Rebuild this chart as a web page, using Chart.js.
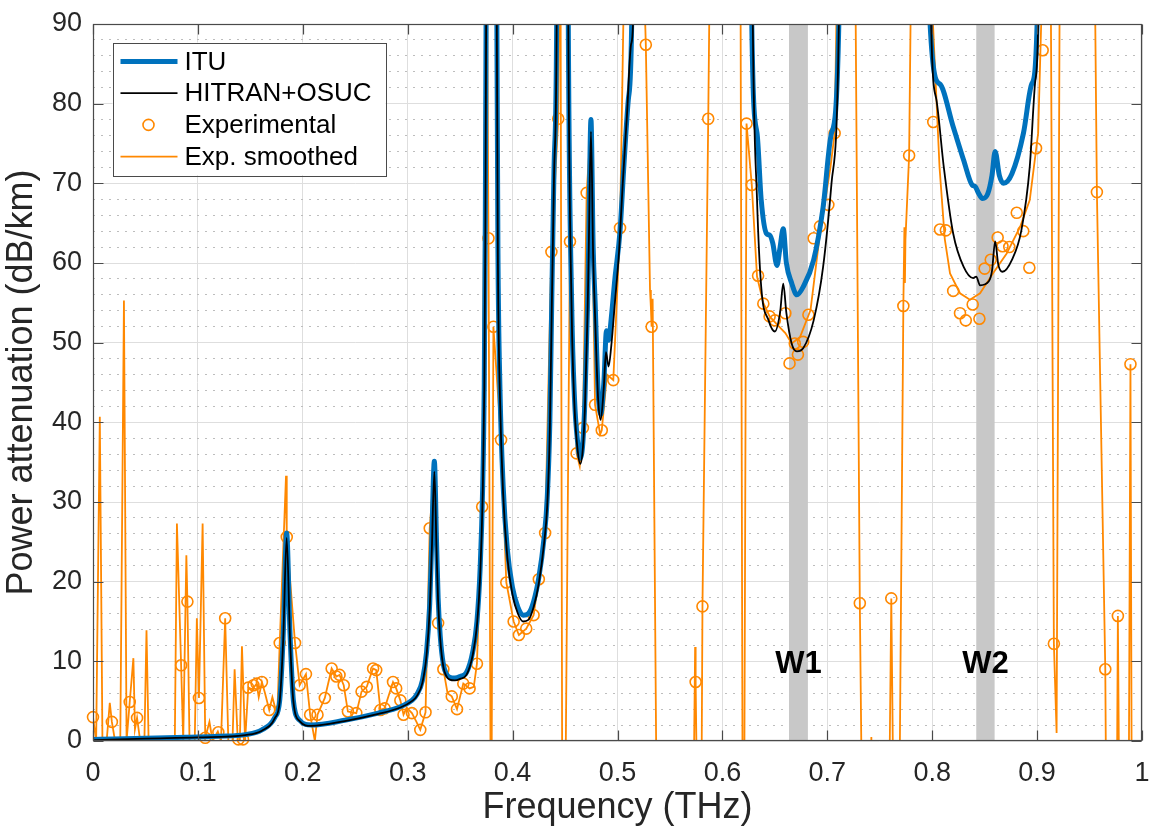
<!DOCTYPE html>
<html>
<head>
<meta charset="utf-8">
<title>Power attenuation vs frequency</title>
<script src="https://cdn.jsdelivr.net/npm/chart.js@4.4.1/dist/chart.umd.min.js"></script>
<style>
  body { margin: 0; background: #fff; }
  canvas { display: block; }
</style>
</head>
<body>
<canvas id="attChart" width="1157" height="830"></canvas>
<script>
// axis ticks (THz / dB/km)
var xTickVals = [0, 0.1, 0.2, 0.3, 0.4, 0.5, 0.6, 0.7, 0.8, 0.9, 1];
var yTickVals = [0, 10, 20, 30, 40, 50, 60, 70, 80, 90];
var yMinorStep = 2;

// transmission windows (gray bands)
var winNames = ['W1', 'W2'];
var winLow = [0.6635, 0.842];
var winHigh = [0.6815, 0.8595];
var winLabelLevel = 9.6;

// ITU model, values above 90 are off the top of the plot
var ituFreq = [0, 0.02, 0.05, 0.08, 0.1, 0.12, 0.145, 0.161, 0.1735, 0.178, 0.1814, 0.1846, 0.1878, 0.191, 0.197, 0.208,
  0.24, 0.272, 0.293, 0.304, 0.309, 0.314, 0.318, 0.321, 0.323, 0.3254, 0.3275, 0.329, 0.331, 0.334, 0.337, 0.34,
  0.345, 0.35, 0.356, 0.362, 0.366, 0.369, 0.3715, 0.373, 0.374, 0.375, 0.376, 0.384, 0.385, 0.386, 0.388, 0.391,
  0.395, 0.4, 0.405, 0.41, 0.415, 0.42, 0.425, 0.43, 0.433, 0.4355, 0.4373, 0.4395, 0.442, 0.443, 0.452, 0.4531,
  0.4563, 0.459, 0.462, 0.4645, 0.467, 0.469, 0.4715, 0.4725, 0.4747, 0.4768, 0.4787, 0.4815, 0.484, 0.487, 0.4895,
  0.4915, 0.494, 0.4975, 0.5024, 0.506, 0.5103, 0.5135, 0.515, 0.627, 0.628, 0.633, 0.637, 0.642, 0.645, 0.648,
  0.652, 0.655, 0.658, 0.661, 0.666, 0.671, 0.677, 0.687, 0.696, 0.704, 0.711, 0.712, 0.797, 0.798, 0.807, 0.82,
  0.83, 0.838, 0.841, 0.844, 0.848, 0.853, 0.857, 0.86, 0.864, 0.868, 0.876, 0.887, 0.895, 0.9, 0.901, 1];
var ituAtt = [0.2, 0.25, 0.35, 0.45, 0.5, 0.6, 0.8, 1.4, 3.0, 5.1, 13.5, 26.1, 13.5, 5.1, 2.6, 2.0,
  2.6, 3.5, 4.3, 5.1, 5.9, 7.6, 11.2, 17.2, 25.5, 35.1, 25, 18, 13.2, 9.6, 8.4, 8.0,
  7.9, 8.1, 8.6, 11.2, 15, 21.5, 32, 45, 66, 100, 130, 130, 90, 62, 44, 32,
  24, 19.2, 16.8, 15.8, 16.0, 17.5, 20.5, 25.5, 30.5, 40, 55, 72, 90, 130, 130, 90,
  55, 43, 37.5, 35.5, 37.5, 43, 55, 62, 78, 62, 55, 44, 41, 45, 51.5,
  50.3, 53, 58, 64, 72, 80.5, 90, 130, 130, 90, 76.3, 67.9, 63.7, 63.5, 62.5,
  59.7, 62, 64.3, 60, 57.5, 56, 57, 60.4, 67, 76.3, 90, 130, 130, 90, 82.5, 77.1,
  72.9, 69.8, 69.6, 68.8, 68.1, 68.7, 71, 74, 71, 70, 71.2, 76.3, 82.5, 90, 130, 130];

// HITRAN + OSUC model
var hitFreq = [0, 0.05, 0.1, 0.145, 0.161, 0.1735, 0.178, 0.1814, 0.1846, 0.1878, 0.191, 0.197, 0.208, 0.24, 0.272,
  0.293, 0.304, 0.309, 0.314, 0.318, 0.321, 0.323, 0.3254, 0.3275, 0.329, 0.331, 0.334, 0.337, 0.34, 0.345, 0.35,
  0.356, 0.362, 0.366, 0.369, 0.3715, 0.373, 0.374, 0.375, 0.376, 0.384, 0.385, 0.386, 0.388, 0.391, 0.395, 0.4,
  0.405, 0.41, 0.415, 0.42, 0.425, 0.43, 0.433, 0.4355, 0.4373, 0.4395, 0.442, 0.443, 0.452, 0.4531, 0.4563, 0.459,
  0.462, 0.4645, 0.467, 0.469, 0.4715, 0.4725, 0.4747, 0.4768, 0.4787, 0.4815, 0.484, 0.487, 0.489, 0.4915, 0.494,
  0.4975, 0.5015, 0.505, 0.509, 0.513, 0.515, 0.516, 0.627, 0.629, 0.633, 0.637, 0.644, 0.65, 0.655, 0.658, 0.661,
  0.666, 0.671, 0.677, 0.687, 0.696, 0.704, 0.711, 0.713, 0.797, 0.799, 0.804, 0.811, 0.82, 0.83, 0.839, 0.842,
  0.8456, 0.854, 0.857, 0.86, 0.863, 0.867, 0.876, 0.885, 0.893, 0.898, 0.901, 0.903, 1];
var hitAtt = [0.1, 0.3, 0.45, 0.75, 1.3, 2.9, 5.0, 13, 25.5, 13, 5.0, 2.5, 1.9, 2.5, 3.4,
  4.2, 5.0, 5.7, 7.3, 10.8, 16.5, 24, 33.8, 24, 17.5, 12.8, 9.3, 8.1, 7.7, 7.6, 7.8,
  8.3, 10.8, 14.5, 20.5, 31, 44, 63, 98, 130, 130, 88, 60, 43, 31, 23, 18.3,
  16, 15.0, 15.2, 16.8, 19.8, 24.8, 29.5, 39, 54, 71, 90, 130, 130, 90, 54, 42,
  36.5, 34.8, 36.8, 42, 54, 61, 76.5, 61, 53, 43, 40.3, 44.5, 48.8, 47, 49.5,
  55, 61.5, 70, 78.5, 87.5, 91, 130, 130, 90, 68, 57, 52.8, 51.4, 53.8, 57.4, 53.7,
  49.9, 48.9, 49.3, 52.8, 59.5, 70, 90, 130, 130, 90, 80.5, 72.1, 63.7, 59.5, 58.1, 58.3,
  57.2, 57.7, 59, 62.7, 59.8, 58.9, 60.4, 64.1, 72.1, 82.5, 90, 130, 130];

// measured points (circles)
var expFreq = [0, 0.018, 0.035, 0.042, 0.084, 0.09, 0.101, 0.107, 0.1195, 0.126, 0.1386, 0.143, 0.148, 0.153, 0.156,
  0.161, 0.168, 0.178, 0.1847, 0.1926, 0.197, 0.203, 0.207, 0.214, 0.221, 0.2275, 0.232, 0.235, 0.239, 0.243, 0.251,
  0.256, 0.261, 0.267, 0.27, 0.274, 0.278, 0.286, 0.289, 0.293, 0.296, 0.304, 0.312, 0.317, 0.321, 0.329, 0.334,
  0.342, 0.347, 0.353, 0.359, 0.366, 0.371, 0.377, 0.3817, 0.389, 0.394, 0.401, 0.406, 0.413, 0.42, 0.425, 0.431,
  0.437, 0.4435, 0.4547, 0.461, 0.467, 0.4706, 0.4786, 0.485, 0.496, 0.5024, 0.527, 0.5325, 0.5745, 0.581, 0.5865,
  0.623, 0.628, 0.634, 0.639, 0.645, 0.65, 0.66, 0.664, 0.669, 0.672, 0.677, 0.682, 0.687, 0.693, 0.701, 0.707,
  0.731, 0.761, 0.7725, 0.778, 0.801, 0.8074, 0.813, 0.82, 0.8265, 0.832, 0.8386, 0.845, 0.85, 0.8558, 0.8624,
  0.867, 0.8735, 0.8806, 0.8868, 0.8926, 0.899, 0.9053, 0.916, 0.957, 0.965, 0.977, 0.989];
var expAtt = [3.0, 2.4, 4.9, 2.9, 9.5, 17.5, 5.4, 0.4, 1.1, 15.4, 0.2, 0.2, 6.7, 7.0, 7.2,
  7.4, 3.9, 12.3, 25.6, 12.3, 7.0, 8.4, 3.3, 3.3, 5.4, 9.1, 8.1, 8.3, 7.0, 3.7, 3.5,
  6.2, 6.8, 9.1, 8.9, 3.9, 4.1, 7.4, 6.6, 5.1, 3.3, 3.5, 1.4, 3.6, 26.7, 14.8, 9.0,
  5.6, 4.0, 7.2, 6.6, 9.7, 29.4, 63.1, 52.0, 37.8, 19.9, 15.0, 13.3, 14.1, 15.8, 20.3, 26.1,
  61.4, 78.1, 62.7, 36.1, 39.3, 68.8, 42.2, 39.0, 45.3, 64.4, 87.4, 52.0, 7.4, 16.9, 78.1,
  77.5, 69.8, 58.4, 54.9, 53.3, 52.8, 53.7, 47.4, 49.9, 48.5, 50.1, 53.5, 63.1, 64.6, 67.3, 76.3,
  17.3, 17.9, 54.6, 73.5, 77.7, 64.2, 64.1, 56.5, 53.7, 52.8, 54.8, 53.0, 59.3, 60.4, 63.2,
  62.1, 62.0, 66.3, 64.0, 59.4, 74.4, 86.7, 12.2, 68.9, 9.0, 15.7, 47.3];

// smoothed measurement, goes far off the plot on both sides
var smFreq = [0, 0.003, 0.0065, 0.009, 0.013, 0.016, 0.018, 0.021, 0.026, 0.0295, 0.032, 0.035, 0.0385, 0.04, 0.042,
  0.045, 0.049, 0.051, 0.053, 0.078, 0.08, 0.084, 0.086, 0.089, 0.09, 0.092, 0.097, 0.099, 0.101, 0.1045, 0.107,
  0.111, 0.114, 0.119, 0.122, 0.126, 0.129, 0.133, 0.135, 0.138, 0.14, 0.142, 0.145, 0.148, 0.152, 0.156, 0.158,
  0.161, 0.164, 0.168, 0.171, 0.174, 0.176, 0.178, 0.184, 0.1847, 0.1926, 0.197, 0.203, 0.207, 0.2115, 0.214, 0.221,
  0.2275, 0.232, 0.235, 0.239, 0.243, 0.251, 0.256, 0.261, 0.264, 0.267, 0.27, 0.274, 0.278, 0.286, 0.289, 0.293,
  0.296, 0.299, 0.304, 0.308, 0.312, 0.317, 0.321, 0.3245, 0.329, 0.334, 0.338, 0.342, 0.347, 0.353, 0.359, 0.363,
  0.366, 0.371, 0.375, 0.377, 0.3795, 0.3817, 0.389, 0.394, 0.401, 0.406, 0.413, 0.42, 0.425, 0.431, 0.437, 0.4435,
  0.4455, 0.4475, 0.4495, 0.4547, 0.461, 0.464, 0.467, 0.4706, 0.4745, 0.4786, 0.4835, 0.485, 0.49, 0.496, 0.5024,
  0.508, 0.522, 0.527, 0.531, 0.5318, 0.5325, 0.5335, 0.538, 0.5715, 0.574, 0.5745, 0.577, 0.5795, 0.581, 0.5865,
  0.589, 0.617, 0.6195, 0.6205, 0.623, 0.628, 0.633, 0.639, 0.645, 0.652, 0.66, 0.666, 0.674, 0.684, 0.693, 0.703,
  0.707, 0.711, 0.726, 0.731, 0.734, 0.7405, 0.742, 0.7435, 0.758, 0.761, 0.764, 0.768, 0.7725, 0.7735, 0.774,
  0.7745, 0.778, 0.781, 0.797, 0.799, 0.807, 0.812, 0.817, 0.8265, 0.836, 0.8456, 0.858, 0.871, 0.884, 0.893, 0.901,
  0.906, 0.9125, 0.916, 0.9186, 0.922, 0.954, 0.957, 0.965, 0.9665, 0.9755, 0.977, 0.979, 0.987, 0.989, 0.9905, 1];
var smAtt = [3.0, 0, 40.7, 0, 0, 4.8, 2.4, 0, 0, 55.3, 0, 4.9, 10.4, 1.5, 2.9,
  0, 0, 13.9, 0, 0, 27.3, 9.5, 0, 23.3, 17.5, 0, 0, 15.4, 5.4, 27.3, 0.4,
  2.4, 0, 1.2, 0, 15.4, 0, 0, 9.0, 0, 0, 11.9, 0, 6.7, 6.5, 7.2, 5.5,
  7.4, 6.0, 3.9, 5.5, 4.0, 4.5, 12.3, 33.3, 25.6, 12.3, 7.0, 8.4, 3.3, 0, 3.3, 5.4,
  9.1, 8.1, 8.3, 7.0, 3.7, 3.5, 6.2, 6.8, 8.0, 9.1, 8.9, 3.9, 4.1, 7.4, 6.6, 5.1,
  3.3, 4.2, 3.5, 2.5, 1.4, 3.6, 26.7, 33, 14.8, 9.0, 6.0, 5.6, 4.0, 7.2, 6.6, 6.8,
  9.7, 29.4, 110, 63.1, -20, 52.0, 37.8, 19.9, 15.0, 13.3, 14.1, 15.8, 20.3, 26.1, 61.4, 78.1,
  110, -20, -20, 62.7, 36.1, 34.5, 39.3, 68.8, 77, 42.2, 38.5, 39.0, 46, 45.3, 64.4,
  110, 110, 87.4, 56.6, 54.5, 52.0, 55.5, -20, -20, 11.8, 7.4, -20, -20, 16.9, 78.1,
  110, 110, -20, -20, 77.5, 69.8, 58.3, 55.0, 53.3, 52.3, 51.2, 49.9, 50.7, 54.1, 63.7, 72.0,
  76.3, 110, 110, 17.3, -20, -20, 0.5, -20, -20, 17.9, -20, -20, 54.6, 64.5, 57.5,
  63, 73.5, 110, 110, 95, 72, 63, 58.7, 56.2, 55.4, 56.2, 58.7, 61.2, 64.6, 67.9, 76.3,
  100, 110, 12.2, 1.0, 110, 110, 68.9, 9.0, -20, -20, 15.7, -20, -20, 47.3, -20, -20];

var FONT = "'Liberation Sans', Arial, Helvetica, sans-serif";
var TEXT = '#262626';
var BLUE = '#0072bd';
var ORANGE = '#ff8800';

function toPoints(xs, ys) {
  return xs.map(function(x, i) { return {x: x, y: ys[i]}; });
}

// gray windows underneath, box / inward ticks / legend on top
var decor = {
  id: 'decor',
  beforeDatasetsDraw: function(chart) {
    var ctx = chart.ctx, area = chart.chartArea, xs = chart.scales.x;
    ctx.save();
    ctx.fillStyle = '#c8c8c8';
    for (var i = 0; i < winNames.length; i++) {
      var x0 = xs.getPixelForValue(winLow[i]);
      var x1 = xs.getPixelForValue(winHigh[i]);
      ctx.fillRect(x0, area.top, x1 - x0, area.bottom - area.top);
    }
    ctx.restore();
  },
  afterDraw: function(chart) {
    var ctx = chart.ctx, area = chart.chartArea, xs = chart.scales.x, ys = chart.scales.y;
    var i;
    ctx.save();

    ctx.font = 'bold 31px ' + FONT;
    ctx.fillStyle = '#000';
    ctx.textAlign = 'center';
    ctx.textBaseline = 'middle';
    for (i = 0; i < winNames.length; i++) {
      ctx.fillText(winNames[i], xs.getPixelForValue((winLow[i] + winHigh[i]) / 2), ys.getPixelForValue(winLabelLevel));
    }

    // axes box with MATLAB style ticks pointing inwards
    var L = Math.round(area.left) + 0.5, R = Math.round(area.right) - 0.5;
    var T = Math.round(area.top) + 0.5, B = Math.round(area.bottom) - 0.5;
    ctx.strokeStyle = '#4a4a4a';
    ctx.lineWidth = 1.2;
    ctx.strokeRect(L, T, R - L, B - T);
    ctx.beginPath();
    for (i = 0; i < xTickVals.length; i++) {
      var px = Math.round(xs.getPixelForValue(xTickVals[i])) + 0.5;
      ctx.moveTo(px, B); ctx.lineTo(px, B - 10);
      ctx.moveTo(px, T); ctx.lineTo(px, T + 10);
    }
    for (i = 0; i < yTickVals.length; i++) {
      var py = Math.round(ys.getPixelForValue(yTickVals[i])) + 0.5;
      ctx.moveTo(L, py); ctx.lineTo(L + 10, py);
      ctx.moveTo(R, py); ctx.lineTo(R - 10, py);
    }
    ctx.stroke();

    // legend box in the upper left corner
    var sets = chart.data.datasets;
    var bx = L + 19, by = T + 18, rowH = 31.7, textX = bx + 72;
    ctx.font = '26px ' + FONT;
    var maxW = 0;
    for (i = 0; i < sets.length; i++) maxW = Math.max(maxW, ctx.measureText(sets[i].label).width);
    var bw = textX - bx + maxW + 14, bh = rowH * sets.length + 6;
    ctx.fillStyle = '#fff';
    ctx.fillRect(bx, by, bw, bh);
    ctx.strokeStyle = '#4a4a4a';
    ctx.lineWidth = 1;
    ctx.strokeRect(Math.round(bx) + 0.5, Math.round(by) + 0.5, Math.round(bw), Math.round(bh));
    ctx.textAlign = 'left';
    ctx.textBaseline = 'middle';
    for (i = 0; i < sets.length; i++) {
      var ds = sets[i];
      var cy = by + 19 + i * rowH;
      if (ds.showLine === false) {
        ctx.beginPath();
        ctx.arc(bx + 36, cy, ds.pointRadius, 0, Math.PI * 2);
        ctx.strokeStyle = ds.borderColor;
        ctx.lineWidth = ds.pointBorderWidth;
        ctx.stroke();
      } else {
        ctx.beginPath();
        ctx.moveTo(bx + 8, cy);
        ctx.lineTo(bx + 65, cy);
        ctx.strokeStyle = ds.borderColor;
        ctx.lineWidth = ds.borderWidth;
        ctx.stroke();
      }
      ctx.fillStyle = '#000';
      ctx.fillText(ds.label, textX, cy + 1);
    }
    ctx.restore();
  }
};

Chart.defaults.font.family = FONT;
Chart.defaults.color = TEXT;

new Chart(document.getElementById('attChart'), {
  type: 'line',
  data: {
    datasets: [
      { label: 'ITU', data: toPoints(ituFreq, ituAtt), borderColor: BLUE, borderWidth: 5,
        pointRadius: 0, cubicInterpolationMode: 'monotone', clip: 0, order: 1 },
      { label: 'HITRAN+OSUC', data: toPoints(hitFreq, hitAtt), borderColor: '#000', borderWidth: 1.8,
        pointRadius: 0, cubicInterpolationMode: 'monotone', clip: 0, order: 0 },
      { label: 'Experimental', data: toPoints(expFreq, expAtt), showLine: false, pointStyle: 'circle',
        pointRadius: 5.5, pointBorderWidth: 1.6, borderColor: ORANGE, pointBorderColor: ORANGE,
        pointBackgroundColor: 'rgba(0,0,0,0)', backgroundColor: 'rgba(0,0,0,0)', clip: false, order: 2 },
      { label: 'Exp. smoothed', data: toPoints(smFreq, smAtt), borderColor: ORANGE, borderWidth: 1.8,
        pointRadius: 0, tension: 0, clip: 0, order: 3 }
    ]
  },
  options: {
    responsive: false,
    animation: false,
    devicePixelRatio: 1,
    events: [],
    layout: { padding: { top: 24, right: 15, bottom: 0, left: 0 } },
    plugins: { legend: { display: false }, tooltip: { enabled: false } },
    scales: {
      x: {
        type: 'linear',
        min: 0,
        max: 1,
        afterBuildTicks: function(scale) {
          scale.ticks = xTickVals.map(function(v) { return {value: v}; });
        },
        afterFit: function(scale) {
          scale.height = 89;
          scale.paddingLeft = 0;
          scale.paddingRight = 0;
        },
        ticks: {
          autoSkip: false,
          maxRotation: 0,
          padding: 16,
          color: TEXT,
          font: { size: 27 },
          callback: function(v) { return String(Math.round(v * 10) / 10); }
        },
        grid: { color: '#dedede', lineWidth: 1, drawTicks: false },
        border: { display: false },
        title: { display: true, text: 'Frequency (THz)', color: TEXT, font: { size: 36 }, padding: { top: 0, bottom: 0 } }
      },
      y: {
        type: 'linear',
        min: 0,
        max: 90,
        afterBuildTicks: function(scale) {
          var t = [];
          for (var v = 0; v <= 90; v += yMinorStep) t.push({value: v});
          scale.ticks = t;
        },
        afterFit: function(scale) {
          scale.width = 93;
          scale.paddingTop = 0;
          scale.paddingBottom = 0;
        },
        ticks: {
          autoSkip: false,
          padding: 11,
          color: TEXT,
          font: { size: 27 },
          callback: function(v) { return yTickVals.indexOf(v) >= 0 ? String(v) : ''; }
        },
        grid: {
          drawTicks: false,
          lineWidth: 1,
          color: function(c) {
            return (c.tick && yTickVals.indexOf(c.tick.value) >= 0) ? '#dedede' : '#bdbdbd';
          }
        },
        border: {
          display: false,
          dash: function(c) {
            return (c.tick && yTickVals.indexOf(c.tick.value) < 0) ? [2, 6] : [];
          }
        },
        title: { display: true, text: 'Power attenuation (dB/km)', color: TEXT, font: { size: 36 }, padding: { top: 0, bottom: 0 } }
      }
    }
  },
  plugins: [decor]
});
</script>
</body>
</html>
